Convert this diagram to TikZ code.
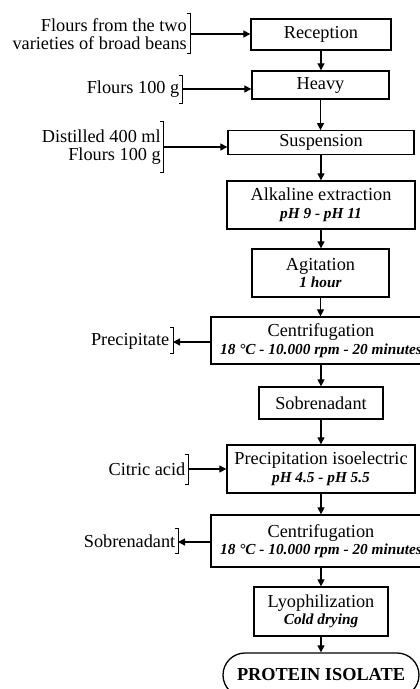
\documentclass[tikz,border=0pt]{standalone}
\usepackage{fontspec}
\setmainfont{Liberation Serif}
\usetikzlibrary{arrows.meta}
\begin{document}
\begin{tikzpicture}[x=1pt,y=-1pt,
  box/.style={draw,line width=1.3pt,inner sep=0pt,align=center,
    font=\fontsize{18.3}{19}\selectfont},
  lab/.style={inner sep=0pt,anchor=east,align=right,
    font=\fontsize{18.3}{18}\selectfont},
  arr/.style={line width=1.2pt,-{Triangle[length=7pt,width=7pt]}},
  brk/.style={line width=0.8pt}]
\useasboundingbox (0,0) rectangle (420,689);
\clip (0,0) rectangle (420,689);
\newcommand{\sub}[1]{\\[-1.5pt]{\fontsize{15.3}{16}\selectfont\bfseries\itshape #1}}
% main boxes
\node[box,minimum width=140pt,minimum height=31pt] (rec) at (321,34.5) {Reception};
\node[box,minimum width=137pt,minimum height=28pt] (hea) at (320.5,85) {Heavy};
\node[box,minimum width=186pt,minimum height=23.5pt] (sus) at (321,142.5) {Suspension};
\node[box,minimum width=188pt,minimum height=48pt] (alk) at (321,205) {Alkaline extraction\sub{pH 9 - pH 11}};
\node[box,minimum width=137pt,minimum height=48pt] (agi) at (320.5,273) {Agitation\sub{1 hour}};
\node[box,minimum width=220pt,minimum height=47pt] (ce1) at (321,340.5) {Centrifugation\sub{18 °C - 10.000 rpm - 20 minutes}};
\node[box,minimum width=124pt,minimum height=32pt] (sob) at (321,403) {Sobrenadant};
\node[box,minimum width=188pt,minimum height=48pt] (pre) at (321,469) {Precipitation isoelectric\sub{pH 4.5 - pH 5.5}};
\node[box,minimum width=220pt,minimum height=52pt] (ce2) at (321,541) {Centrifugation\sub{18 °C - 10.000 rpm - 20 minutes}};
\node[box,minimum width=134pt,minimum height=49pt] (lyo) at (321,611.5) {Lyophilization\sub{Cold drying}};
\node[box,minimum width=196pt,minimum height=44pt,rounded corners=22pt,
  font=\fontsize{18.3}{19}\selectfont\bfseries] (pro) at (321,675) {PROTEIN ISOLATE};
% main flow
\foreach \a/\b in {rec/hea,hea/sus,sus/alk,alk/agi,agi/ce1,ce1/sob,sob/pre,pre/ce2,ce2/lyo,lyo/pro}
  \draw[arr] (\a.south) -- (\a.south |- \b.north);
% side labels
\node[lab] (l1) at (187,34) {Flours from the two\\varieties of broad beans};
\draw[brk] (187,13) -- (190,13) -- (190,53) -- (187,53);
\coordinate (b1) at (190,34);
\draw[arr] (b1) -- (rec.west |- b1);

\node[lab] (l2) at (179.5,89) {Flours 100 g};
\draw[brk] (179,75) -- (182,75) -- (182,103) -- (179,103);
\coordinate (b2) at (182,89);
\draw[arr] (b2) -- (hea.west |- b2);

\node[lab] (l3) at (161,147) {Distilled 400 ml\\Flours 100 g};
\draw[brk] (160,121) -- (163,121) -- (163,172) -- (160,172);
\coordinate (b3) at (163,147);
\draw[arr] (b3) -- (sus.west |- b3);

\node[lab] (l4) at (169.5,341) {Precipitate};
\draw[brk] (170,327) -- (173,327) -- (173,353) -- (170,353);
\coordinate (b4) at (173,342);
\draw[arr] (ce1.west |- b4) -- (b4);

\node[lab] (l5) at (185.5,469) {Citric acid};
\draw[brk] (185,454) -- (188,454) -- (188,484) -- (185,484);
\coordinate (b5) at (188,469);
\draw[arr] (b5) -- (pre.west |- b5);

\node[lab] (l6) at (175.5,541) {Sobrenadant};
\draw[brk] (175,528) -- (178,528) -- (178,553) -- (175,553);
\coordinate (b6) at (178,542);
\draw[arr] (ce2.west |- b6) -- (b6);
\end{tikzpicture}
\end{document}
